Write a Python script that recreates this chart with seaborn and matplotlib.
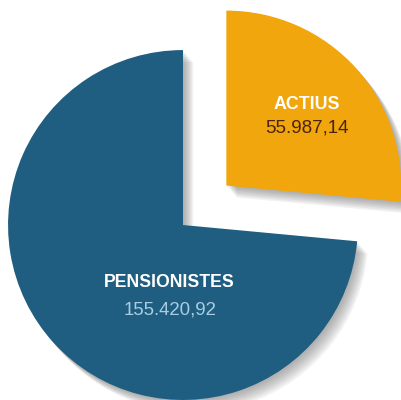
import matplotlib
matplotlib.use("Agg")
import matplotlib.pyplot as plt
from matplotlib.patches import Shadow
import seaborn as sns

sns.set_style("white")
plt.rcParams['font.family'] = ['Liberation Sans', 'DejaVu Sans']

categories = ["ACTIUS", "PENSIONISTES"]
values = [55987.14, 155420.92]
value_labels = ["55.987,14", "155.420,92"]
colors = ["#F0A60C", "#1F5E80"]
explode = [0.335, 0.0]

fig = plt.figure(figsize=(4.01, 4.00), dpi=100)
ax = fig.add_axes([0, 0, 1, 1])
wedges, _ = ax.pie(values, colors=colors, startangle=90, counterclock=False,
                   explode=explode, radius=1.0,
                   wedgeprops={'linewidth': 0, 'zorder': 5})
# soft shadow
for w in wedges:
    for k in range(1, 8):
        s = Shadow(w, 0.006 * k, -0.007 * k, facecolor='#666666',
                   edgecolor='none', alpha=0.09)
        s.set_zorder(1)
        ax.add_patch(s)

ax.set_xlim(-1.046, 1.246)
ax.set_ylim(-1.0, 1.286)
ax.set_aspect('equal')
ax.axis('off')

# labels
ax.text(0.709, 0.686, categories[0], ha='center', va='center', color='white',
        fontsize=12.8, fontweight='bold', zorder=10)
ax.text(0.709, 0.552, value_labels[0], ha='center', va='center', color='#4a2410',
        fontsize=13.5, zorder=10)
ax.text(-0.08, -0.326, categories[1], ha='center', va='center', color='white',
        fontsize=12.7, fontweight='bold', zorder=10)
ax.text(-0.074, -0.486, value_labels[1], ha='center', va='center', color='#a9cde2',
        fontsize=13.4, zorder=10)

fig.savefig("out.png", dpi=100)
